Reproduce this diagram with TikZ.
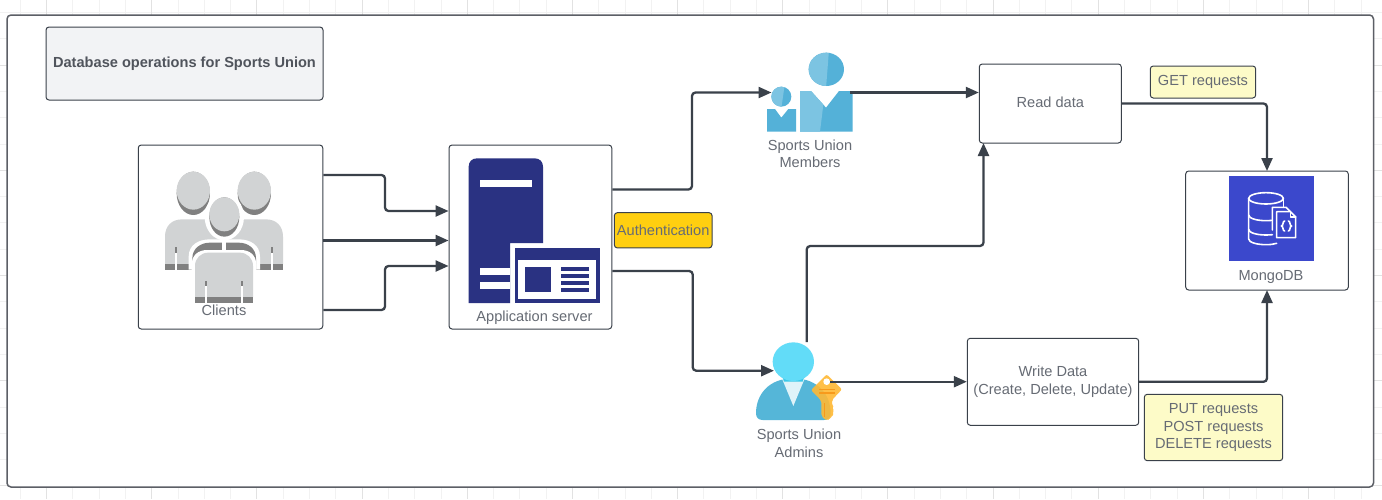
\documentclass[tikz,border=0pt]{standalone}
\usepackage{fontspec}
\setmainfont{Liberation Sans}
\usetikzlibrary{arrows.meta}
\definecolor{txt}{HTML}{666B74}
\definecolor{titletxt}{HTML}{50545C}
\definecolor{edge}{HTML}{3A414A}
\definecolor{frame}{HTML}{5C5F66}
\definecolor{minorgrid}{HTML}{F2F2F2}
\definecolor{majorgrid}{HTML}{E2E2E2}
\definecolor{navy}{HTML}{2A3282}
\definecolor{plight}{HTML}{D1D3D4}
\definecolor{pdark}{HTML}{808080}
\definecolor{mlight}{HTML}{7CC4E2}
\definecolor{mdark}{HTML}{54B1D8}
\definecolor{ahead}{HTML}{62DCF8}
\definecolor{aneck}{HTML}{3CC8E8}
\definecolor{abody}{HTML}{55B6D8}
\definecolor{ashirt}{HTML}{DFF3F9}
\definecolor{keyc}{HTML}{FFB934}
\definecolor{keyd}{HTML}{F79A1C}
\definecolor{mongo}{HTML}{3B48CC}
\definecolor{note}{HTML}{FDFBC8}
\definecolor{auth}{HTML}{FFCF10}
\definecolor{titlebg}{HTML}{F2F3F5}
\tikzset{
  box/.style={draw=edge,line width=1pt,rounded corners=3pt,fill=white,inner sep=0pt,align=center,text=txt,font=\fontsize{14.6}{17.5}\selectfont},
  lbl/.style={inner sep=0pt,align=center,text=txt,font=\fontsize{14.6}{17.5}\selectfont},
  conn/.style={draw=edge,line width=2.3pt,rounded corners=3.5pt,-{Triangle[length=13pt,width=11pt]}},
  wline/.style={draw=white,line width=1.6pt,line cap=round,line join=round},
}
\begin{document}
\begin{tikzpicture}[x=1pt,y=-1pt]
\useasboundingbox (0,0) rectangle (1382,499);
\fill[white] (0,0) rectangle (1382,499);
% grid
\foreach \k in {-1,...,51}{
  \pgfmathsetmacro\gx{46.5+26.29*\k}
  \draw[minorgrid,line width=.7pt] (\gx,0) -- (\gx,499);}
\foreach \k in {-2,...,16}{
  \pgfmathsetmacro\gy{65+26.3*\k}
  \draw[minorgrid,line width=.7pt] (0,\gy) -- (1382,\gy);}
\foreach \k in {0,...,12}{
  \pgfmathsetmacro\gx{46.5+105.15*\k}
  \draw[majorgrid,line width=.7pt] (\gx,0) -- (\gx,499);}
\foreach \k in {0,...,4}{
  \pgfmathsetmacro\gy{65+105.2*\k}
  \draw[majorgrid,line width=.7pt] (0,\gy) -- (1382,\gy);}
% outer frame
\node[draw=frame,line width=1.5pt,rounded corners=4pt,fill=white,minimum width=1366.5pt,minimum height=472pt,inner sep=0pt] (outer) at (690.25,251) {};
% title
\node[box,fill=titlebg,minimum width=277pt,minimum height=73pt,font=\fontsize{14.6}{17}\selectfont\bfseries,text=titletxt] (title) at (184.5,63.5) {\raisebox{-1pt}{Database operations for Sports Union}};
% boxes
\node[box,minimum width=184.5pt,minimum height=184pt] (clients) at (230.5,237) {};
\node[box,minimum width=162.7pt,minimum height=184pt] (app) at (530.4,237) {};
\node[box,minimum width=142pt,minimum height=79pt] (read) at (1050.3,103.5) {\raisebox{2pt}{Read data}};
\node[box,minimum width=171.4pt,minimum height=87pt] (write) at (1053,381.8) {Write Data\\(Create, Delete, Update)};
\node[box,minimum width=162.6pt,minimum height=119pt] (db) at (1267,230.5) {};
\node[box,fill=auth,minimum width=97.7pt,minimum height=35.3pt] (authn) at (663.2,230.3) {Authentication};
\node[box,fill=note,minimum width=105.4pt,minimum height=32pt] (get) at (1203,82) {\raisebox{1pt}{GET requests}};
\node[box,fill=note,minimum width=138.4pt,minimum height=66.4pt] (put) at (1213.5,427.5) {PUT requests\\POST requests\\DELETE requests};
% clients icon
\begin{scope}[shift={(130,140)},scale=1/3]
  \fill[plight] (105,372) -- (105,290) .. controls (105,258) and (125,238) .. (157,238) -- (407,238) .. controls (439,238) and (459,258) .. (459,290) -- (459,372) -- cycle;
  \fill[pdark] (105,372) rectangle (459,389);
  \fill[pdark] (190,160) ellipse [x radius=50,y radius=65];
  \fill[plight] (190,152) ellipse [x radius=50,y radius=57];
  \fill[pdark] (373,160) ellipse [x radius=50,y radius=65];
  \fill[plight] (373,152) ellipse [x radius=50,y radius=57];
  \fill[pdark] (135,322) rectangle (140,338);
  \fill[white] (135,338) rectangle (140,389);
  \fill[pdark] (424,322) rectangle (429,338);
  \fill[white] (424,338) rectangle (429,389);
  \fill[white] (283,231) ellipse [x radius=59,y radius=70];
  \fill[white] (176,389) -- (176,350) .. controls (176,315) and (205,298) .. (240,298) -- (326,298) .. controls (361,298) and (390,315) .. (390,350) -- (390,389) -- cycle;
  \fill[pdark] (187,389) -- (187,355) .. controls (187,325) and (212,308) .. (240,308) -- (326,308) .. controls (354,308) and (378,325) .. (378,355) -- (378,389) -- cycle;
  \fill[white] (275,298) rectangle (289,340);
  \fill[white] (185,489) -- (185,375) .. controls (185,345) and (205,330) .. (232,330) -- (332,330) .. controls (359,330) and (379,345) .. (379,375) -- (379,489) -- cycle;
  \fill[plight] (195,471) -- (195,378) .. controls (195,355) and (212,338) .. (235,338) -- (329,338) .. controls (352,338) and (369,355) .. (369,378) -- (369,471) -- cycle;
  \fill[pdark] (195,471) rectangle (369,489);
  \fill[pdark] (226,422) rectangle (232,437);
  \fill[white] (226,437) rectangle (232,489);
  \fill[pdark] (332,422) rectangle (338,437);
  \fill[white] (332,437) rectangle (338,489);
  \fill[pdark] (283,231) ellipse [x radius=45,y radius=59];
  \fill[plight] (283,223) ellipse [x radius=45,y radius=51];
\end{scope}
\node[lbl] (clientsl) at (224,310) {Clients};
% server icon
\begin{scope}[shift={(440,140)},scale=1/3]
  \fill[navy] (86,489) -- (86,80) .. controls (86,65) and (96,55) .. (111,55) -- (284,55) .. controls (299,55) and (309,65) .. (309,80) -- (309,309) -- (210,309) -- (210,489) -- cycle;
  \fill[white] (120,120) rectangle (275,140);
  \fill[white] (120,385) rectangle (210,405);
  \fill[white] (120,426) rectangle (210,446);
  \fill[navy] (224,324) rectangle (480,489);
  \fill[white] (234,360) rectangle (468,476);
  \fill[navy] (255,381) rectangle (334,456);
  \foreach \ly in {381,402,423,444}{\fill[navy] (362,\ly) rectangle (447,\ly+12);}
\end{scope}
\node[lbl] (appl) at (534.5,317.5) {Application server};
% members icon
\begin{scope}[shift={(740,40)},scale=1/3]
  \fill[mdark] (259,88) ellipse [x radius=53,y radius=50];
  \begin{scope}\clip (200,30) -- (267,30) -- (258,145) -- (200,145) -- cycle;
    \fill[mlight] (259,88) ellipse [x radius=53,y radius=50];\end{scope}
  \fill[mdark] (180,153) -- (213,153) -- (258,203) -- (297,153) -- (338,153) -- (338,275) -- (180,275) -- cycle;
  \fill[mlight] (180,153) -- (213,153) -- (250,194) -- (240,275) -- (180,275) -- cycle;
  \fill[mdark] (124,170) circle [radius=30];
  \begin{scope}\clip (90,135) -- (134,135) -- (124,205) -- (90,205) -- cycle;
    \fill[mlight] (124,170) circle [radius=30];\end{scope}
  \fill[mdark] (81,207) -- (105,207) -- (124,233) -- (145,207) -- (168,207) -- (168,275) -- (81,275) -- cycle;
\end{scope}
\node[lbl] (membersl) at (810,154) {Sports Union\\Members};
% admins icon
\begin{scope}[shift={(740,330)},scale=1/3]
  \fill[abody] (48,250) .. controls (48,195) and (85,145) .. (160,145) .. controls (235,145) and (272,195) .. (272,250) .. controls (272,262) and (265,270) .. (252,270) -- (68,270) .. controls (55,270) and (48,262) .. (48,250) -- cycle;
  \fill[ashirt] (126,146) -- (194,146) -- (160,228) -- cycle;
  \fill[aneck] (128,142) -- (192,142) -- (188,155) -- (132,155) -- cycle;
  \fill[ahead] (160,95) ellipse [x radius=62,y radius=58];
  \fill[keyc,fill opacity=.9,rounded corners=2pt] (260,133) -- (306,178) -- (276,210) -- (276,226) -- (283,234) -- (276,241) -- (283,249) -- (274,262) -- (260,273) -- (244,258) -- (244,212) -- (213,180) -- cycle;
  \fill[white] (260,155) circle [radius=10];
  \fill[keyd] (237,176) rectangle (285,180);
  \fill[keyd] (237,187) rectangle (285,191);
  \fill[keyd] (252,220) rectangle (256,262);
\end{scope}
\node[lbl] (adminsl) at (799,443.5) {Sports Union\\Admins};
% mongo icon
\node[fill=mongo,minimum width=85pt,minimum height=85pt,inner sep=0pt] (mongoicon) at (1271.5,218.5) {};
\begin{scope}[shift={(1180,165)},scale=1/3]
  \draw[wline] (258,100) ellipse [x radius=52,y radius=17];
  \draw[wline] (206,100) -- (206,222) .. controls (206,232) and (230,239) .. (258,239) .. controls (270,239) and (280,238) .. (290,235);
  \draw[wline] (310,100) -- (310,127);
  \draw[wline] (206,150) .. controls (206,160) and (230,167) .. (258,167) .. controls (265,167) and (272,166.5) .. (277,166);
  \draw[wline] (206,193) .. controls (206,203) and (230,210) .. (258,210) .. controls (265,210) and (272,209.5) .. (277,209);
  \draw[wline] (277,195) -- (277,127) -- (318,127) -- (330,139);
  \draw[wline] (290,218) -- (290,140) -- (331,140) -- (347,156) -- (347,218) -- cycle;
  \draw[wline] (331,140) -- (331,156) -- (347,156);
  \draw[wline] (314,168) .. controls (307,168) and (311,183) .. (304,183) .. controls (311,183) and (307,198) .. (314,198);
  \draw[wline] (325,168) .. controls (332,168) and (328,183) .. (335,183) .. controls (328,183) and (332,198) .. (325,198);
\end{scope}
\node[lbl] (mongol) at (1271,276.5) {MongoDB};
% connectors
\coordinate (mem) at (771.5,92.5);
\coordinate (memout) at (850,92.5);
\coordinate (adm) at (774,370.7);
\coordinate (admup) at (806.7,342);
\coordinate (admout) at (830,381.7);
\draw[conn] ([yshift=62pt]clients.east) -- (385,175) -- (385,211) -- (app.west |- 0,211);
\draw[conn] ([yshift=-3.5pt]clients.east) -- (app.west |- 0,240.5);
\draw[conn] ([yshift=-73pt]clients.east) -- (385,310) -- (385,266) -- (app.west |- 0,266);
\draw[conn] (app.east |- 0,189.5) -- (692,189.5) -- (692,92.5) -- (mem);
\draw[conn] (app.east |- 0,271) -- (692.7,271) -- (692.7,370.7) -- (adm);
\draw[conn] (memout) -- (read.west |- memout);
\draw[conn] (admup) -- (806.7,246) -- (983.5,246) -- (983.5,143);
\draw[conn] (admout) -- (write.west |- admout);
\draw[conn] (read.east) -- (1267,103.5) -- (1267,171);
\draw[conn] (write.east) -- (1267,381.8) -- (1267,290);
\end{tikzpicture}
\end{document}
